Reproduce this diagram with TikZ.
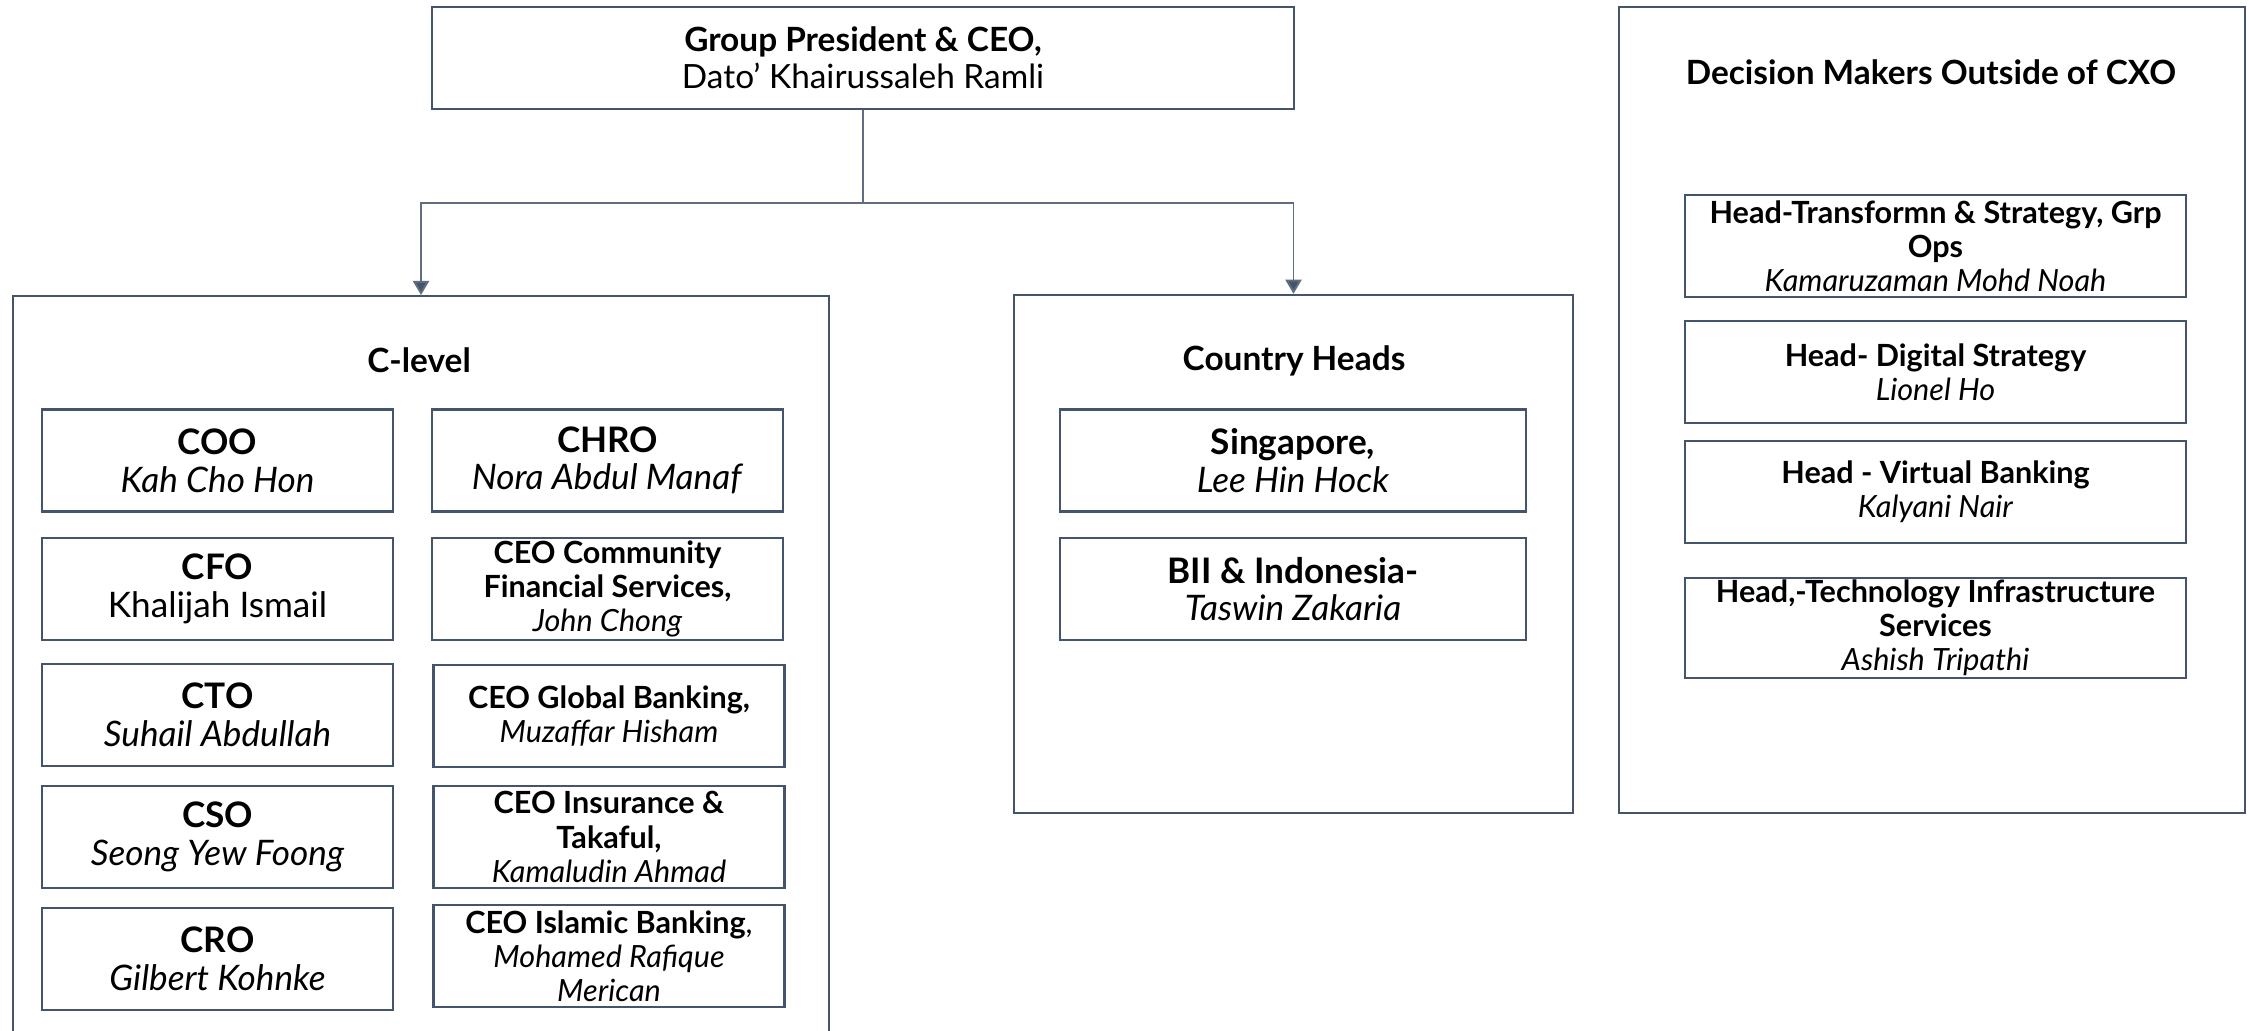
\documentclass[tikz,border=0pt]{standalone}
\usepackage{fontspec}
\setmainfont{Lato}
\usepackage{tikz}
\usetikzlibrary{arrows.meta, positioning, calc}
\usepackage{xcolor}
\definecolor{slate}{RGB}{68,84,106}
\newcommand{\bigtext}{\fontsize{9.5}{10.6}\selectfont}
\newcommand{\roletext}{\fontsize{10}{10.7}\selectfont}
\newcommand{\smalltext}{\fontsize{8.7}{9.7}\selectfont}

\begin{document}
\begin{tikzpicture}[
  frame/.style={draw=slate, line width=0.7pt, inner sep=0pt},
  box/.style={draw=slate, line width=0.7pt, minimum width=3.51cm, minimum height=1.02cm, inner sep=0pt, align=center, font=\roletext},
  sbox/.style={box, font=\smalltext},
  title/.style={font=\bigtext\bfseries, inner sep=0pt},
  conn/.style={draw=slate!85, line width=0.55pt},
  tip/.style={-{Triangle[length=4pt, width=4.6pt, fill=slate]}}
]
  \useasboundingbox (0,0) rectangle (22.49,-10.31);
  \clip (0,0) rectangle (22.49,-10.31);
  % Top of the tree
  \node[box, minimum width=8.62cm, font=\bigtext] (ceo) at (8.63,-0.58) {\textbf{Group President \& CEO,}\\Dato’ Khairussaleh Ramli};
  % Group frames
  \node[frame, anchor=north, minimum width=8.16cm, minimum height=7.7cm] (clevel) at (4.21,-2.95) {};
  \node[frame, minimum width=5.59cm, minimum height=5.18cm] (country) at (12.935,-5.54) {};
  \node[frame, minimum width=6.26cm, minimum height=8.06cm] (outside) at (19.32,-4.10) {};
  \node[title] (cltitle) at (4.19,-3.60) {C-level};
  \node[title] (cotitle) at (12.94,-3.61) {Country Heads};
  \node[title] (outitle) at (19.31,-0.72) {Decision Makers Outside of CXO};
  % Connectors
  \coordinate (split) at ($(ceo.south)+(0,-0.93)$);
  \draw[conn] (ceo.south) -- (split);
  \draw[conn, tip] (split) -| (clevel.north);
  \draw[conn, tip] (split) -| (country.north);
  % C-level, left column
  \foreach \n/\y/\role/\who in {coo/-4.605/COO/\textit{Kah Cho Hon}, cfo/-5.89/CFO/Khalijah Ismail, cto/-7.15/CTO/\textit{Suhail Abdullah}, cso/-8.37/CSO/\textit{Seong Yew Foong}, cro/-9.59/CRO/\textit{Gilbert Kohnke}}
    \node[box] (\n) at (2.175,\y) {\textbf{\role}\\\who};
  % C-level, right column
  \node[box] (chro) at (6.075,-4.605) {\textbf{CHRO}\\\textit{Nora Abdul Manaf}};
  \node[sbox] (cfs) at (6.075,-5.89) {\textbf{CEO Community}\\\textbf{Financial Services,}\\\textit{John Chong}};
  \node[sbox] (gb) at (6.09,-7.16) {\textbf{CEO Global Banking,}\\\textit{Muzaffar Hisham}};
  \node[sbox] (ins) at (6.09,-8.37) {\textbf{CEO Insurance \&}\\\textbf{Takaful,}\\\textit{Kamaludin Ahmad}};
  \node[sbox] (isl) at (6.09,-9.56) {\textbf{CEO Islamic Banking},\\\textit{Mohamed Rafique}\\\textit{Merican}};
  % Country heads
  \node[box, minimum width=4.66cm] (sg) at (12.93,-4.605) {\textbf{Singapore,}\\\textit{Lee Hin Hock}};
  \node[box, minimum width=4.66cm] (id) at (12.93,-5.89) {\textbf{BII \& Indonesia-}\\\textit{Taswin Zakaria}};
  % Outside of CXO
  \node[sbox, minimum width=5.01cm] (trans) at (19.355,-2.46) {\textbf{Head-Transformn \& Strategy, Grp}\\\textbf{Ops}\\\textit{Kamaruzaman Mohd Noah}};
  \node[sbox, minimum width=5.01cm] (dig) at (19.355,-3.72) {\textbf{Head- Digital Strategy}\\\textit{Lionel Ho}};
  \node[sbox, minimum width=5.01cm] (vb) at (19.355,-4.92) {\textbf{Head - Virtual Banking}\\\textit{Kalyani Nair}};
  \node[sbox, minimum width=5.01cm, minimum height=1.0cm] (tech) at (19.355,-6.28) {\textbf{Head,-Technology Infrastructure}\\\textbf{Services}\\\textit{Ashish Tripathi}};
\end{tikzpicture}
\end{document}
